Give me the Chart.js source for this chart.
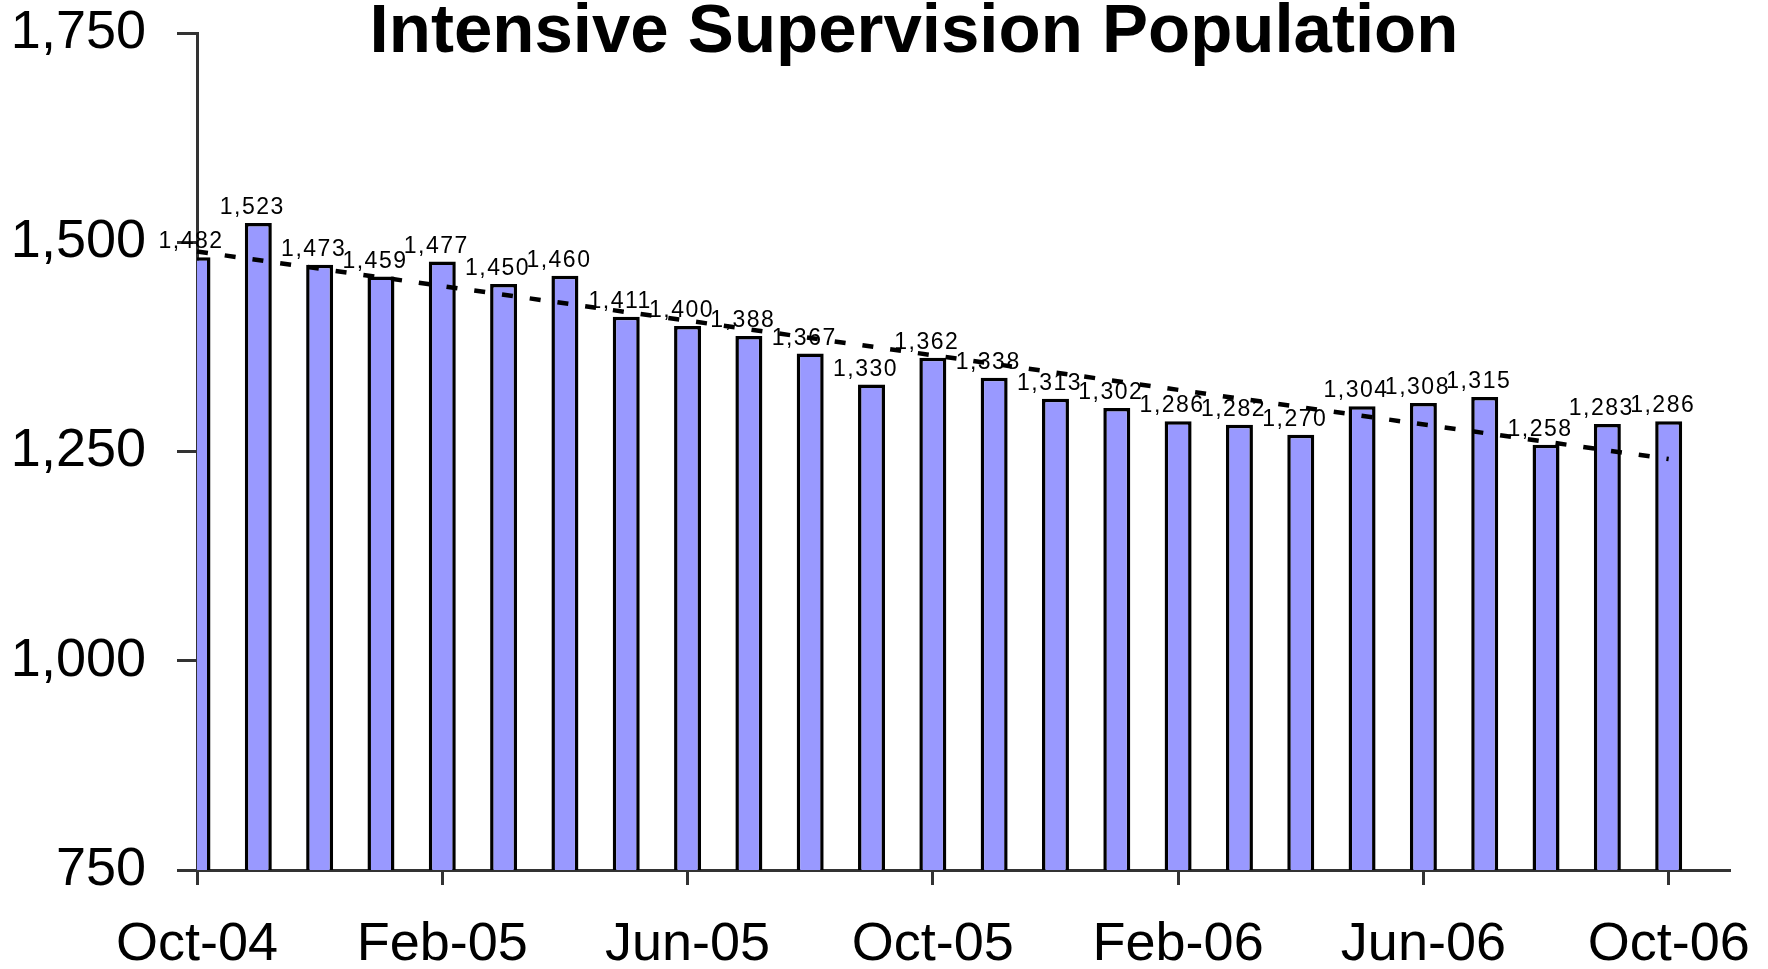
<!DOCTYPE html>
<html>
<head>
<meta charset="utf-8">
<title>Intensive Supervision Population</title>
<script src="https://cdn.jsdelivr.net/npm/chart.js@4/dist/chart.umd.min.js"></script>
<style>
  html, body { margin: 0; padding: 0; background: #fff; }
  #wrap { width: 1768px; height: 969px; }
</style>
</head>
<body>
<div id="wrap"><canvas id="popChart" width="1768" height="969"></canvas></div>
<script>
// months shown as bars, Oct-04 .. Oct-06
const months = ['Oct-04', 'Nov-04', 'Dec-04', 'Jan-05', 'Feb-05', 'Mar-05', 'Apr-05', 'May-05',
  'Jun-05', 'Jul-05', 'Aug-05', 'Sep-05', 'Oct-05', 'Nov-05', 'Dec-05', 'Jan-06', 'Feb-06',
  'Mar-06', 'Apr-06', 'May-06', 'Jun-06', 'Jul-06', 'Aug-06', 'Sep-06', 'Oct-06'];
const population = [1482, 1523, 1473, 1459, 1477, 1450, 1460, 1411, 1400, 1388, 1367, 1330, 1362,
  1338, 1313, 1302, 1286, 1282, 1270, 1304, 1308, 1315, 1258, 1283, 1286];
// dashed trend line at its two ends
const trendMonths = ['Oct-04', 'Oct-06'];
const trendValues = [1489, 1241];
const tickLabels = ['Oct-04', 'Feb-05', 'Jun-05', 'Oct-05', 'Feb-06', 'Jun-06', 'Oct-06'];
const yTicks = [750, 1000, 1250, 1500, 1750];

const chartTitle = 'Intensive Supervision Population';

// axis gets one spare slot on the right, like the original
const axisLabels = months.concat(['']);

const fmt = v => v.toLocaleString('en-US');

// title sits over the top of the plot, so draw it by hand
const titlePlugin = {
  id: 'titleText',
  afterDraw(chart) {
    const ctx = chart.ctx;
    ctx.save();
    ctx.font = 'bold 69px "Liberation Sans", Arial, sans-serif';
    ctx.fillStyle = '#000';
    ctx.textAlign = 'center';
    ctx.textBaseline = 'alphabetic';
    ctx.fillText(chartTitle, 914, 52);
    ctx.restore();
  }
};

// value labels above each bar
const valueLabels = {
  id: 'valueLabels',
  afterDatasetsDraw(chart) {
    const meta = chart.getDatasetMeta(1);
    const ctx = chart.ctx;
    ctx.save();
    ctx.font = '23px "Liberation Sans", Arial, sans-serif';
    ctx.letterSpacing = '1.5px';
    ctx.fillStyle = '#000';
    ctx.textAlign = 'center';
    ctx.textBaseline = 'alphabetic';
    meta.data.forEach((bar, i) => {
      ctx.fillText(fmt(population[i]), bar.x - 6, bar.y - 9);
    });
    ctx.restore();
  }
};

const ctx = document.getElementById('popChart').getContext('2d');
new Chart(ctx, {
  type: 'bar',
  data: {
    labels: axisLabels,
    datasets: [
      {
        type: 'line',
        label: 'Trend',
        data: trendMonths.map((m, i) => ({ x: m, y: trendValues[i] })),
        borderColor: '#000',
        borderWidth: 4.5,
        borderDash: [11, 17],
        borderCapStyle: 'butt',
        pointRadius: 0,
        fill: false,
        order: 0
      },
      {
        label: 'Population',
        data: population,
        backgroundColor: '#9999FF',
        borderColor: '#000',
        borderWidth: 3.5,
        borderSkipped: 'start',
        barPercentage: 0.44,
        categoryPercentage: 1,
        clip: 0,
        order: 1
      }
    ]
  },
  options: {
    responsive: false,
    animation: false,
    layout: { padding: { top: 33, right: 38, left: 0, bottom: 0 } },
    plugins: {
      legend: { display: false },
      title: { display: false },
      tooltip: { enabled: false }
    },
    scales: {
      x: {
        offset: false,
        z: 1,
        afterFit(scale) {
          scale.height = 99;
          scale.paddingLeft = 0;
          scale.paddingRight = 0;
        },
        border: { display: true, color: '#333', width: 3 },
        grid: {
          offset: false,
          drawOnChartArea: false,
          drawTicks: true,
          tickLength: 15,
          tickColor: '#333',
          tickWidth: 3
        },
        ticks: {
          autoSkip: false,
          maxRotation: 0,
          padding: 28,
          color: '#000',
          font: { family: '"Liberation Sans", Arial, sans-serif', size: 54 },
          callback(val, i) {
            const m = axisLabels[i];
            return tickLabels.includes(m) ? m : null;
          }
        }
      },
      y: {
        min: 750,
        max: 1750,
        z: 1,
        afterFit(scale) {
          scale.width = 197;
          scale.paddingTop = 0;
          scale.paddingBottom = 0;
        },
        afterBuildTicks(scale) { scale.ticks = yTicks.map(v => ({ value: v })); },
        border: { display: true, color: '#333', width: 3 },
        grid: {
          drawOnChartArea: false,
          drawTicks: true,
          tickLength: 20,
          tickColor: '#333',
          tickWidth: 3
        },
        ticks: {
          padding: 31,
          color: '#000',
          font: { family: '"Liberation Sans", Arial, sans-serif', size: 54 },
          callback: v => fmt(v)
        }
      }
    }
  },
  plugins: [valueLabels, titlePlugin]
});
</script>
</body>
</html>
